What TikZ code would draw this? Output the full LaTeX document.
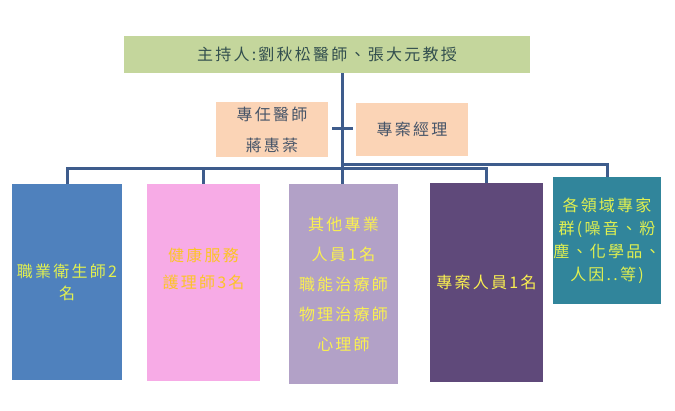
\documentclass[tikz,border=0pt]{standalone}
\usepackage{fontspec}
\newfontfamily\cjk[LetterSpace=14]{Noto Sans CJK TC}
\definecolor{linec}{RGB}{62,92,140}
\definecolor{topc}{RGB}{196,214,156}
\definecolor{topt}{RGB}{50,78,78}
\definecolor{peach}{RGB}{251,212,182}
\definecolor{peacht}{RGB}{70,84,104}
\definecolor{c1}{RGB}{79,129,189}
\definecolor{c2}{RGB}{247,171,230}
\definecolor{c3}{RGB}{178,161,199}
\definecolor{c4}{RGB}{95,73,122}
\definecolor{c5}{RGB}{49,133,155}
\definecolor{t1}{RGB}{225,240,80}
\definecolor{t2}{RGB}{252,196,40}
\definecolor{t3}{RGB}{250,240,80}
\tikzset{
  boxx/.style={inner sep=0pt, align=center},
  conn/.style={draw=linec, line width=3pt},
  fnt/.style={font=\cjk\fontsize{16}{#1}\selectfont}
}
\begin{document}
\begin{tikzpicture}[x=1pt,y=-1pt]
\useasboundingbox (0,0) rectangle (675,410);
% boxes
\node[boxx, fill=topc, minimum width=406pt, minimum height=37pt, text=topt, fnt=18] (top) at (327,54.5) {主持人:劉秋松醫師、張大元教授};
\node[boxx, fill=peach, minimum width=112pt, minimum height=55pt, text=peacht, fnt=31] (doc) at (272,129.5) {專任醫師\\蔣惠棻};
\node[boxx, fill=peach, minimum width=112pt, minimum height=53pt, text=peacht, fnt=18] (pm) at (412,129.5) {專案經理};
\node[boxx, fill=c1, minimum width=110pt, minimum height=196pt, text=t1, fnt=22] (b1) at (67,282) {職業衛生師2\\名};
\node[boxx, fill=c2, minimum width=113pt, minimum height=197pt] (b2) at (203.5,282.5) {};
\node[boxx, text=t2, fnt=27] (b2t) at (203.5,268.5) {健康服務\\護理師3名};
\node[boxx, fill=c3, minimum width=109pt, minimum height=200pt, text=t3, fnt=30] (b3) at (343.5,284) {其他專業\\人員1名\\職能治療師\\物理治療師\\心理師};
\node[boxx, fill=c4, minimum width=113pt, minimum height=199pt, text=t3, fnt=18] (b4) at (486.5,282.5) {專案人員1名};
\node[boxx, fill=c5, minimum width=108pt, minimum height=127pt, text=t1, fnt=23] (b5) at (607,240.5) {各領域專家\\群(噪音、粉\\塵、化學品、\\人因..等)};
% connectors
\coordinate (trunk) at (342,168);
\coordinate (trunk2) at (342,164);
\coordinate (tl) at (332,128);
\coordinate (tr) at (353,128);
\draw[conn] (top.south -| trunk) -- (b3.north -| trunk);
\draw[conn] (b1.north) |- (trunk) -| (b4.north);
\draw[conn] (b2.north) -- (b2.north |- trunk);
\draw[conn] (trunk2) -| (b5.north);
\draw[conn] (tl) -- (tr);
\end{tikzpicture}
\end{document}
